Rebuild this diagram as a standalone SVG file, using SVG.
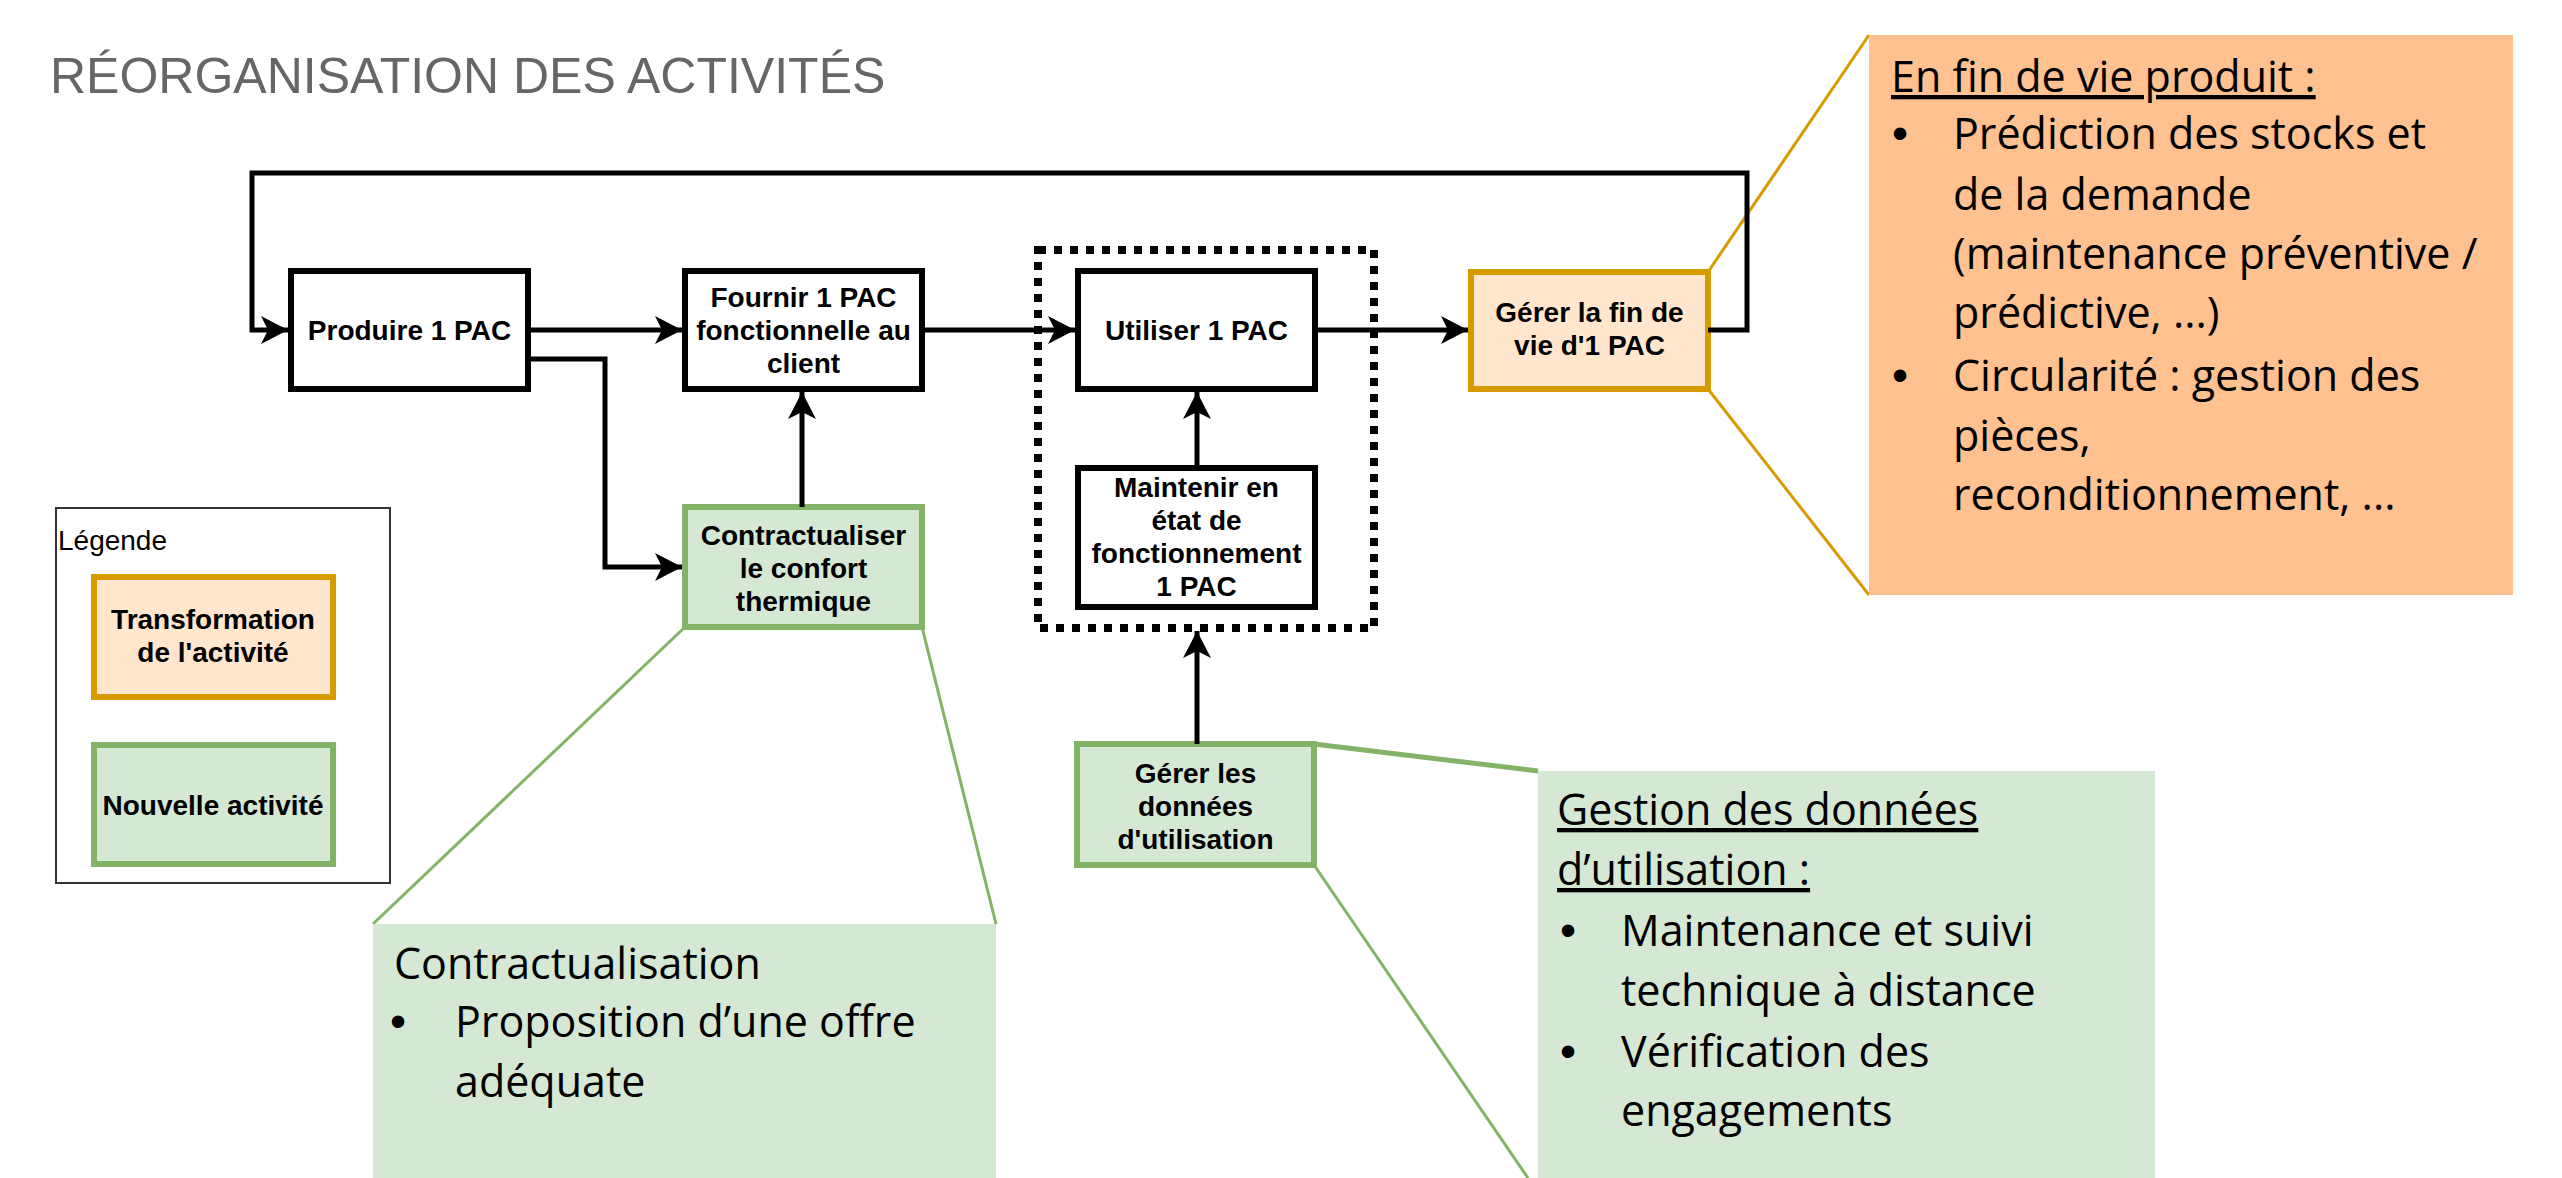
<svg xmlns="http://www.w3.org/2000/svg" width="2562" height="1178" viewBox="0 0 2562 1178">
<style>
.node{fill:#ffffff;stroke:#000000;stroke-width:6}
.orange{fill:#ffe6cc;stroke:#d79b00;stroke-width:6}
.green{fill:#d5e8d4;stroke:#82b366;stroke-width:6}
.nt{font-family:"Liberation Sans",Arial,sans-serif;font-weight:bold;font-size:28px;fill:#000;text-anchor:middle}
.conn{fill:none;stroke:#000;stroke-width:5}
.ct{font-family:"Open Sans","Noto Sans",sans-serif;font-size:43px;fill:#000}
.b{font-family:"Liberation Sans",Arial,sans-serif;font-size:46px;fill:#000}
.u{text-decoration:underline}
</style>
<defs>
<marker id="arr" markerUnits="userSpaceOnUse" markerWidth="30" markerHeight="30" refX="27" refY="14" orient="auto">
<path d="M0,0 L27,14 L0,28 L7,14 Z" fill="#000"/>
</marker>
</defs>
<rect width="2562" height="1178" fill="#ffffff"/>
<text x="50" y="93" font-family="Liberation Sans,Arial,sans-serif" font-size="50" fill="#666666">RÉORGANISATION DES ACTIVITÉS</text>

<g id="callout-pointers" fill="none">
<line x1="1708" y1="272" x2="1869" y2="35" stroke="#d79b00" stroke-width="3"/>
<line x1="1708" y1="389" x2="1869" y2="595" stroke="#d79b00" stroke-width="3"/>
<line x1="685" y1="627" x2="373" y2="924" stroke="#82b366" stroke-width="3"/>
<line x1="922" y1="627" x2="996" y2="924" stroke="#82b366" stroke-width="3"/>
<line x1="1314" y1="744" x2="1538" y2="771" stroke="#82b366" stroke-width="5"/>
<line x1="1314" y1="865" x2="1528" y2="1178" stroke="#82b366" stroke-width="3"/>
</g>

<g id="callout-fin-de-vie">
<rect x="1869" y="35" width="644" height="560" fill="#ffc18f"/>
<text class="ct" x="1891" y="92"><tspan class="u">En fin de vie produit :</tspan></text>
<text class="b" x="1892" y="149">•</text>
<text class="ct" x="1953" y="149">Prédiction des stocks et</text>
<text class="ct" x="1953" y="210">de la demande</text>
<text class="ct" x="1953" y="269">(maintenance préventive /</text>
<text class="ct" x="1953" y="328">prédictive, ...)</text>
<text class="b" x="1892" y="391">•</text>
<text class="ct" x="1953" y="391">Circularité : gestion des</text>
<text class="ct" x="1953" y="451">pièces,</text>
<text class="ct" x="1953" y="510">reconditionnement, ...</text>
</g>

<g id="callout-contractualisation">
<rect x="373" y="924" width="623" height="260" fill="#d5e8d4"/>
<text class="ct" x="394" y="979">Contractualisation</text>
<text class="b" x="390" y="1037">•</text>
<text class="ct" x="455" y="1037">Proposition d’une offre</text>
<text class="ct" x="455" y="1097">adéquate</text>
</g>

<g id="callout-gestion">
<rect x="1538" y="771" width="617" height="410" fill="#d5e8d4"/>
<text class="ct" x="1557" y="825"><tspan class="u">Gestion des données</tspan></text>
<text class="ct" x="1557" y="885"><tspan class="u">d’utilisation :</tspan></text>
<text class="b" x="1560" y="946">•</text>
<text class="ct" x="1621" y="946">Maintenance et suivi</text>
<text class="ct" x="1621" y="1006">technique à distance</text>
<text class="b" x="1560" y="1067">•</text>
<text class="ct" x="1621" y="1067">Vérification des</text>
<text class="ct" x="1621" y="1126">engagements</text>
</g>

<g id="legend">
<rect x="56" y="508" width="334" height="375" fill="#fff" stroke="#333" stroke-width="2"/>
<text x="58" y="550" font-family="Liberation Sans,Arial,sans-serif" font-size="28" fill="#000">Légende</text>
<rect class="orange" x="94" y="577" width="239" height="120"/>
<text class="nt" x="213" y="629">Transformation</text>
<text class="nt" x="213" y="662">de l'activité</text>
<rect class="green" x="94" y="745" width="239" height="119"/>
<text class="nt" x="213" y="815">Nouvelle activité</text>
</g>

<g id="group-utilisation">
<rect x="1038" y="250" width="336" height="378" fill="none" stroke="#000" stroke-width="8" stroke-dasharray="8 8"/>
</g>

<g id="node-produire">
<rect class="node" x="291" y="271" width="237" height="118"/>
<text class="nt" x="409.5" y="340">Produire 1 PAC</text>
</g>
<g id="node-fournir">
<rect class="node" x="685" y="271" width="237" height="118"/>
<text class="nt" x="803.5" y="307">Fournir 1 PAC</text>
<text class="nt" x="803.5" y="340">fonctionnelle au</text>
<text class="nt" x="803.5" y="373">client</text>
</g>
<g id="node-utiliser">
<rect class="node" x="1078" y="271" width="237" height="118"/>
<text class="nt" x="1196.5" y="340">Utiliser 1 PAC</text>
</g>
<g id="node-maintenir">
<rect class="node" x="1078" y="468" width="237" height="139"/>
<text class="nt" x="1196.5" y="497">Maintenir en</text>
<text class="nt" x="1196.5" y="530">état de</text>
<text class="nt" x="1196.5" y="563">fonctionnement</text>
<text class="nt" x="1196.5" y="596">1 PAC</text>
</g>
<g id="node-fin-de-vie">
<rect class="orange" x="1471" y="272" width="237" height="117"/>
<text class="nt" x="1589.5" y="322">Gérer la fin de</text>
<text class="nt" x="1589.5" y="355">vie d'1 PAC</text>
</g>
<g id="node-contractualiser">
<rect class="green" x="685" y="507" width="237" height="120"/>
<text class="nt" x="803.5" y="545">Contractualiser</text>
<text class="nt" x="803.5" y="578">le confort</text>
<text class="nt" x="803.5" y="611">thermique</text>
</g>
<g id="node-donnees">
<rect class="green" x="1077" y="744" width="237" height="121"/>
<text class="nt" x="1195.5" y="783">Gérer les</text>
<text class="nt" x="1195.5" y="816">données</text>
<text class="nt" x="1195.5" y="849">d'utilisation</text>
</g>

<g id="connectors">
<path class="conn" d="M1708,330 H1747 V173 H252 V330 H288" marker-end="url(#arr)"/>
<path class="conn" d="M528,330 H682" marker-end="url(#arr)"/>
<path class="conn" d="M922,330 H1075" marker-end="url(#arr)"/>
<path class="conn" d="M1315,330 H1468" marker-end="url(#arr)"/>
<path class="conn" d="M1197,468 V392" marker-end="url(#arr)"/>
<path class="conn" d="M528,359 H605 V567 H682" marker-end="url(#arr)"/>
<path class="conn" d="M802,507 V392" marker-end="url(#arr)"/>
<path class="conn" d="M1197,744 V631" marker-end="url(#arr)"/>
</g>
</svg>
